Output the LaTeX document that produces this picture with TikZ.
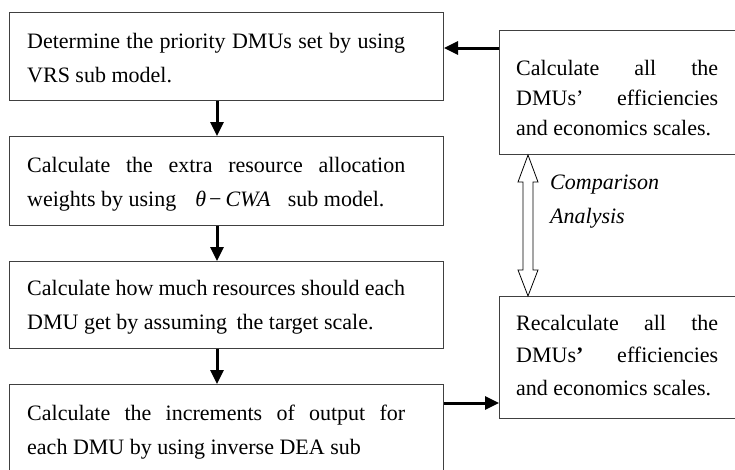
\documentclass[tikz,border=0pt]{standalone}
\usepackage{fontspec}
\setmainfont{Liberation Serif}
\usetikzlibrary{arrows.meta}
\hbadness=10000
\begin{document}
\begin{tikzpicture}[x=1pt,y=-1pt,
  box/.style={draw=black!75, line width=1pt, anchor=north west, inner sep=0pt},
  txt/.style={anchor=base west, inner sep=0pt, align=justify, font=\fontsize{22}{34}\selectfont},
  arr/.style={line width=3pt, -{Triangle[length=14pt,width=13pt]}},
  hollow/.style={draw=black, line width=0.8pt, fill=white}]
\useasboundingbox (0,0) rectangle (735,469);
% left column boxes
\node[box, minimum width=434pt, minimum height=88pt] (b1) at (9,12) {};
\node[box, minimum width=434pt, minimum height=89pt] (b2) at (9,136) {};
\node[box, minimum width=434pt, minimum height=87pt] (b3) at (9,261) {};
\node[box, minimum width=434pt, minimum height=120pt] (b4) at (9,384) {};
% right column boxes
\node[box, minimum width=240pt, minimum height=124pt] (r1) at (499,30) {};
\node[box, minimum width=240pt, minimum height=122pt] (r2) at (499,296) {};
% texts
\node[txt, text width=378pt] (t1) at ([xshift=18pt,yshift=-36pt]b1.north west)
  {Determine the priority DMUs set by using\linebreak VRS sub model.};
\node[txt, text width=378pt] (t2) at ([xshift=18pt,yshift=-36pt]b2.north west)
  {Calculate the extra resource allocation\linebreak weights by using\hspace{19pt}{\itshape θ}\hspace{3pt}−\hspace{4pt}{\itshape CWA}\hspace{12pt} sub model.};
\node[txt, text width=378pt] (t3) at ([xshift=18pt,yshift=-34pt]b3.north west)
  {Calculate how much resources should each\linebreak DMU get by assuming\hspace{4pt} the target scale.};
\node[txt, text width=378pt] (t4) at ([xshift=18pt,yshift=-36pt]b4.north west)
  {\parfillskip=0pt Calculate the increments of output for\linebreak each DMU by using inverse DEA sub};
\node[txt, text width=202pt, font=\fontsize{22}{30}\selectfont] (s1) at ([xshift=17pt,yshift=-45pt]r1.north west)
  {Calculate all the\linebreak DMUs’ efficiencies\linebreak and economics scales.};
\node[txt, text width=202pt, font=\fontsize{22}{32.5}\selectfont] (s2) at ([xshift=17pt,yshift=-34pt]r2.north west)
  {Recalculate all the\linebreak DMUs{\bfseries ’} efficiencies\linebreak and economics scales.};
\node[anchor=base west, inner sep=0pt, align=left, font=\fontsize{22}{34}\selectfont\itshape] (ca) at (550,223)
  {Comparison\\Analysis};
% connectors
\coordinate (ax) at (217,0);
\coordinate (ay) at (0,48);
\coordinate (by) at (0,403);
\coordinate (dx) at (528,0);
\draw[arr] (b1.south -| ax) -- (b2.north -| ax);
\draw[arr] (b2.south -| ax) -- (b3.north -| ax);
\draw[arr] (b3.south -| ax) -- (b4.north -| ax);
\draw[arr] (r1.west |- ay) -- (b1.east |- ay);
\draw[arr] (b4.east |- by) -- (r2.west |- by);
\coordinate (ht) at (r1.south -| dx);
\coordinate (hb) at (r2.north -| dx);
\draw[hollow] (ht) -- ([xshift=10pt,yshift=-27pt]ht) -- ([xshift=5pt,yshift=-27pt]ht)
  -- ([xshift=5pt,yshift=26pt]hb) -- ([xshift=10pt,yshift=26pt]hb) -- (hb)
  -- ([xshift=-10pt,yshift=26pt]hb) -- ([xshift=-5pt,yshift=26pt]hb)
  -- ([xshift=-5pt,yshift=-27pt]ht) -- ([xshift=-10pt,yshift=-27pt]ht) -- cycle;
\end{tikzpicture}
\end{document}
